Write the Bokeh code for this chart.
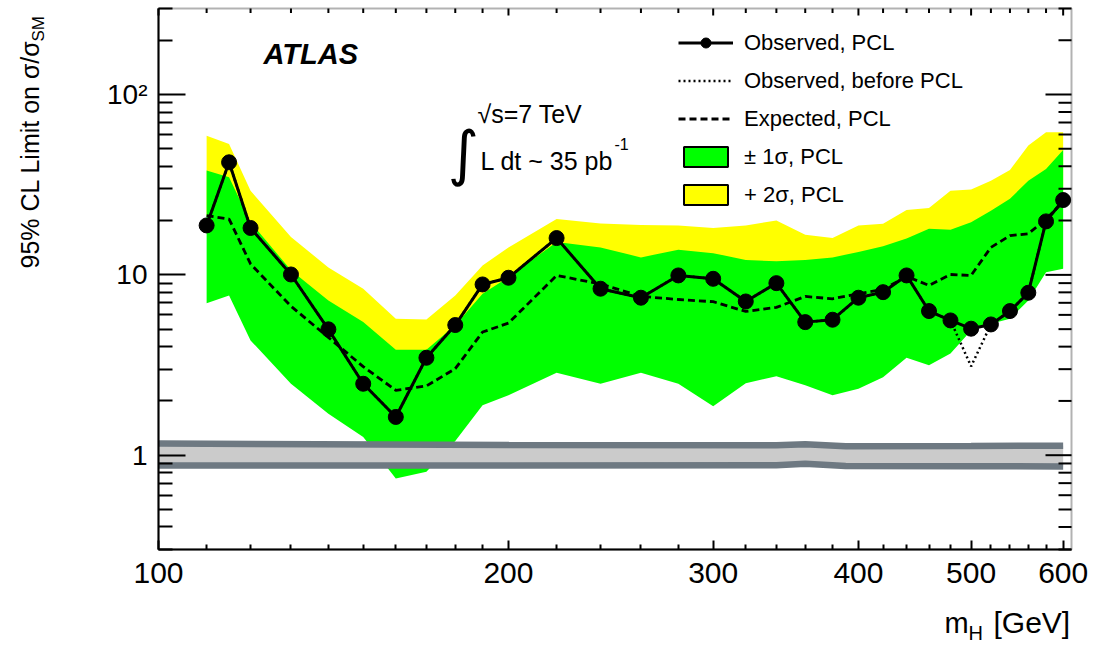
import math
from bokeh.plotting import figure
from bokeh.models import (Range1d, FixedTicker, Label, Legend, LegendItem,
                          BoxAnnotation)
from bokeh.embed import file_html
from bokeh.resources import INLINE

# ---------------- data ----------------
mass = [110, 115, 120, 130, 140, 150, 160, 170, 180, 190, 200,
        220, 240, 260, 280, 300, 320, 340, 360, 380, 400,
        420, 440, 460, 480, 500, 520, 540, 560, 580, 600]

observed = [18.8, 42.1, 18.2, 10.05, 4.99, 2.49, 1.63, 3.47, 5.27, 8.85, 9.64,
            16.0, 8.38, 7.47, 9.93, 9.51, 7.12, 9.0, 5.47, 5.64, 7.47,
            8.02, 9.93, 6.3, 5.59, 5.03, 5.31, 6.3, 7.96, 19.8, 26.0]

observed_before_pcl = [18.8, 42.1, 18.2, 10.05, 4.99, 2.49, 1.63, 3.47, 5.27, 8.85, 9.64,
                       16.0, 8.38, 7.47, 9.93, 9.51, 7.12, 9.0, 5.47, 5.64, 7.47,
                       8.02, 9.93, 6.3, 5.59, 3.11, 5.31, 6.3, 7.96, 19.8, 26.0]

expected = [21.3, 20.4, 11.5, 6.7, 4.5, 3.1, 2.29, 2.42, 3.02, 4.82, 5.4,
            9.93, 8.9, 7.6, 7.3, 7.1, 6.27, 6.6, 7.59, 7.37, 7.86,
            8.3, 9.8, 8.74, 10.05, 9.93, 14.2, 16.5, 16.9, 20.4, 25.3]

band1_lo = [6.97, 7.69, 4.33, 2.49, 1.70, 1.26, 0.743, 0.809, 1.2, 1.89, 2.15,
            2.87, 2.49, 2.87, 2.49, 1.87, 2.51, 2.74, 2.44, 2.15, 2.34,
            2.71, 3.47, 3.15, 3.66, 4.92, 5.36, 5.71, 7.22, 10.35, 10.8]

band1_hi = [37.9, 34.8, 19.6, 10.6, 7.22, 5.47, 3.85, 3.85, 5.25, 7.86, 9.71,
            15.2, 14.2, 12.5, 13.8, 13.2, 12.1, 11.9, 12.1, 12.5, 13.4,
            14.4, 15.9, 18.0, 17.8, 19.6, 22.7, 26.4, 33.3, 38.7, 49.3]

band2_hi = [59.1, 53.2, 29.3, 16.2, 11.0, 8.38, 5.71, 5.66, 7.69, 11.27, 14.2,
            20.4, 19.3, 18.9, 18.8, 18.2, 18.8, 20.0, 16.7, 16.0, 18.8,
            19.2, 22.9, 23.5, 29.3, 29.7, 33.3, 38.2, 52.1, 61.7, 61.7]

theory_mass = [100, 200, 340, 360, 390, 500, 600]
theory_hi = [1.16, 1.14, 1.135, 1.15, 1.12, 1.125, 1.13]
theory_lo = [0.877, 0.877, 0.88, 0.897, 0.872, 0.869, 0.867]

x_major = [100, 200, 300, 400, 500, 600]
x_minor = [110, 120, 130, 140, 150, 160, 170, 180, 190,
           220, 240, 260, 280, 320, 340, 360, 380, 420, 440, 460, 480,
           520, 540, 560, 580]
y_major = [1, 10, 100]
y_minor = [0.3, 0.4, 0.5, 0.6, 0.7, 0.8, 0.9, 2, 3, 4, 5, 6, 7, 8, 9,
           20, 30, 40, 50, 60, 70, 80, 90, 200, 300]
y_labels = {1: "1", 10: "10", 100: "10\u00b2"}

# ---------------- geometry ----------------
FONT = "Liberation Sans"
XMIN, XMAX, YMIN, YMAX = 100, 610, 0.3, 300      # visible plot box
W, H = 1093, 645
BOX_L, BOX_R, BOX_T, BOX_B = 158, 1071, 8, 549   # box edges in page pixels
KX = (BOX_R - BOX_L) / math.log10(XMAX / XMIN)   # px per decade
KY = (BOX_B - BOX_T) / math.log10(YMAX / YMIN)

def X(px):
    return XMIN * 10 ** ((px - BOX_L) / KX)
def Y(py):
    return YMAX * 10 ** (-(py - BOX_T) / KY)

p = figure(width=W, height=H, x_axis_type="log", y_axis_type="log",
           x_range=Range1d(X(0), X(W)), y_range=Range1d(Y(H), Y(0)),
           output_backend="svg", toolbar_location=None,
           min_border=0, min_border_left=0, min_border_right=0,
           min_border_top=0, min_border_bottom=0)
p.grid.visible = False
p.outline_line_color = None
p.background_fill_color = "white"
p.border_fill_color = "white"

GREEN = "#00ff00"
YELLOW = "#ffff00"
LIGHTGREY = "#cbcbcb"
DARKGREY = "#6e7982"

r_yel = p.varea(x=mass, y1=expected, y2=band2_hi, fill_color=YELLOW)
r_grn = p.varea(x=mass, y1=band1_lo, y2=band1_hi, fill_color=GREEN)

p.varea(x=theory_mass, y1=theory_lo, y2=theory_hi, fill_color=LIGHTGREY)
p.line(theory_mass, theory_hi, line_color=DARKGREY, line_width=6.5)
p.line(theory_mass, theory_lo, line_color=DARKGREY, line_width=6.5)

r_dot = p.line(mass, observed_before_pcl, line_color="black", line_width=2.5,
               line_dash="2 3")
r_exp = p.line(mass, expected, line_color="black", line_width=2.8,
               line_dash="7 4")
r_obs = p.line(mass, observed, line_color="black", line_width=3)
r_obs_pts = p.scatter(mass, observed, size=15, color="black")

# legend proxies (zero-width, hidden)
leg_grn = p.quad(left=mass[:1], right=mass[:1], top=band1_hi[:1],
                 bottom=band1_lo[:1], fill_color=GREEN,
                 line_color="black", line_width=2, visible=False)
leg_yel = p.quad(left=mass[:1], right=mass[:1], top=band2_hi[:1],
                 bottom=band1_hi[:1], fill_color=YELLOW,
                 line_color="black", line_width=2, visible=False)

legend = Legend(items=[
    LegendItem(label="Observed, PCL", renderers=[r_obs, r_obs_pts]),
    LegendItem(label="Observed, before PCL", renderers=[r_dot]),
    LegendItem(label="Expected, PCL", renderers=[r_exp]),
    LegendItem(label="\u00b1 1\u03c3, PCL", renderers=[leg_grn]),
    LegendItem(label="+ 2\u03c3, PCL", renderers=[leg_yel]),
], location=(678, H - 207.5))
legend.glyph_width = 55
legend.glyph_height = 25
legend.label_height = 25
legend.spacing = 12
legend.label_standoff = 11
legend.padding = 0
legend.margin = 0
legend.label_text_font = FONT
legend.label_text_font_size = "22px"
legend.label_text_color = "black"
legend.background_fill_alpha = 0
legend.border_line_alpha = 0
p.add_layout(legend, "center")

# ---------------- axes (placed on the box edges) ----------------
xax = p.xaxis[0]
xax.fixed_location = YMIN
xax.bounds = (XMIN, XMAX)
xax.ticker = FixedTicker(ticks=x_major, minor_ticks=x_minor)
xax.major_tick_in = 9
xax.major_tick_out = 0
xax.minor_tick_in = 5
xax.minor_tick_out = 0
xax.major_label_standoff = 13
xax.major_label_text_font = FONT
xax.major_label_text_font_size = "30px"
xax.major_label_text_color = "black"
xax.axis_line_width = 2
xax.major_tick_line_width = 2
xax.minor_tick_line_width = 2

yax = p.yaxis[0]
yax.fixed_location = XMIN
yax.bounds = (YMIN, YMAX)
yax.ticker = FixedTicker(ticks=y_major, minor_ticks=y_minor)
yax.major_label_overrides = y_labels
yax.major_tick_in = 27
yax.major_tick_out = 0
yax.minor_tick_in = 14
yax.minor_tick_out = 0
yax.major_label_standoff = 11
yax.major_label_text_font = FONT
yax.major_label_text_font_size = "28px"
yax.major_label_text_color = "black"
yax.axis_line_width = 2
yax.major_tick_line_width = 2
yax.minor_tick_line_width = 2

# frame box and ticks on top and right edges (ROOT-style)
p.add_layout(BoxAnnotation(left=XMIN, right=XMAX, bottom=YMIN, top=YMAX,
                           fill_alpha=0, line_color="black", line_width=2,
                           level="overlay"))

def edge_ticks(xs, ys, length, angle):
    p.ray(x=xs, y=ys, length=length, angle=angle, length_units="screen",
          line_color="black", line_width=2)

edge_ticks(x_major, [YMAX] * len(x_major), 7, -math.pi / 2)
edge_ticks(x_minor, [YMAX] * len(x_minor), 4.5, -math.pi / 2)
edge_ticks([XMAX] * len(y_major), y_major, 26, math.pi)
edge_ticks([XMAX] * len(y_minor), y_minor, 13, math.pi)

# ---------------- texts ----------------
def lab(px, py, text, size, align="left", baseline="middle", style="normal",
        angle=0.0, font=FONT):
    p.add_layout(Label(x=X(px), y=Y(py), text=text, text_font=font,
                       text_font_size=size, text_align=align,
                       text_baseline=baseline, text_font_style=style,
                       angle=angle, text_color="black"))

lab(263, 53, "ATLAS", "29px", style="bold italic")
lab(463, 152, "\u222b", "60px", align="center", font="DejaVu Sans")
lab(477, 113, "\u221as=7 TeV", "25px")
lab(480, 160, "L dt ~ 35 pb", "25px")
lab(614, 143, "-1", "16px")

# y-axis title
lab(29, 268, "95% CL Limit on \u03c3/\u03c3", "25px", angle=math.pi / 2)
lab(38, 41, "SM", "17px", angle=math.pi / 2)

# x-axis title
lab(944, 622, "m", "29px")
lab(968, 632, "H", "20px")
lab(993, 622, "[GeV]", "30px")

open("out.html", "w").write(file_html(p, INLINE))
